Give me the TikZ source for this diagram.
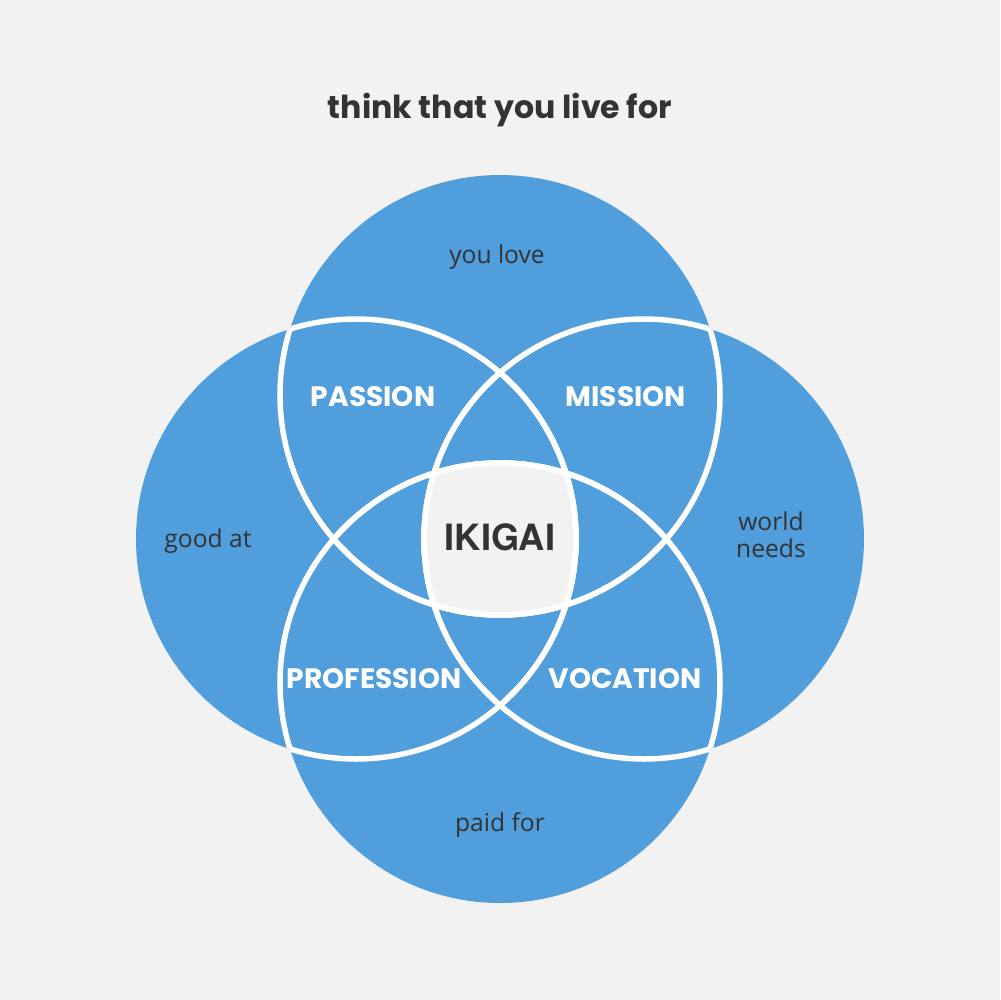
\documentclass[tikz,border=0pt]{standalone}
\usepackage{fontspec}
\setmainfont{Open Sans}
\newfontfamily\titlefont{Poppins}
\newfontfamily\headfont{TeX Gyre Heros}
\usetikzlibrary{positioning}
\definecolor{CBG}{RGB}{242,242,242}
\definecolor{CBLU}{RGB}{80,158,219}
\definecolor{CTXT}{RGB}{51,51,51}

\begin{document}
\begin{tikzpicture}[x=0.1mm,y=-0.1mm,
  lbl/.style={font=\fontsize{7.0}{7.8}\selectfont,text=CTXT,align=center},
  caplbl/.style={font=\titlefont\bfseries\fontsize{8}{9}\selectfont,text=white},
  rim/.style={white,line width=0.55mm}]
  % — background
  \fill[CBG] (0,0) rectangle (1000,1000);
  \useasboundingbox (0,0) rectangle (1000,1000);
  % — circle centres
  \coordinate (love) at (500,395);
  \coordinate (good) at (356,539);
  \coordinate (world) at (644,539);
  \coordinate (paid) at (500,683);
  \foreach \c in {love,good,world,paid}
    \fill[CBLU] (\c) circle (220);
  % — common part of all four
  \begin{scope}
    \clip (love) circle (220);
    \clip (good) circle (220);
    \clip (world) circle (220);
    \fill[CBG] (paid) circle (220);
  \end{scope}
  % — white rims, only inside the other circles
  \foreach \a in {love,good,world,paid}
    \foreach \b in {love,good,world,paid}{
      \ifx\a\b\else
      \begin{scope}
        \clip (\b) circle (220);
        \draw[rim] (\a) circle (220);
      \end{scope}
      \fi}
  % — texts
  \node[font=\titlefont\bfseries\fontsize{9}{11}\selectfont,text=CTXT] (title) at (500,110) {think that you live for};
  \node[lbl] (lovelbl) at (497,257) {you love};
  \node[lbl] (goodlbl) at (208,541) {good at};
  \node[lbl] (worldlbl) at (771,535) {world\\needs};
  \node[lbl] (paidlbl) at (500,825) {paid for};
  \node[caplbl] (passion) at (373,397) {PASSION};
  \node[caplbl] (mission) at (626,397) {MISSION};
  \node[caplbl] (profession) at (374,679) {PROFESSION};
  \node[caplbl] (vocation) at (625,679) {VOCATION};
  \node[font=\headfont\bfseries\fontsize{10.3}{12}\selectfont,text=CTXT] (ikigai) at (500,537) {IKIGAI};
\end{tikzpicture}
\end{document}
